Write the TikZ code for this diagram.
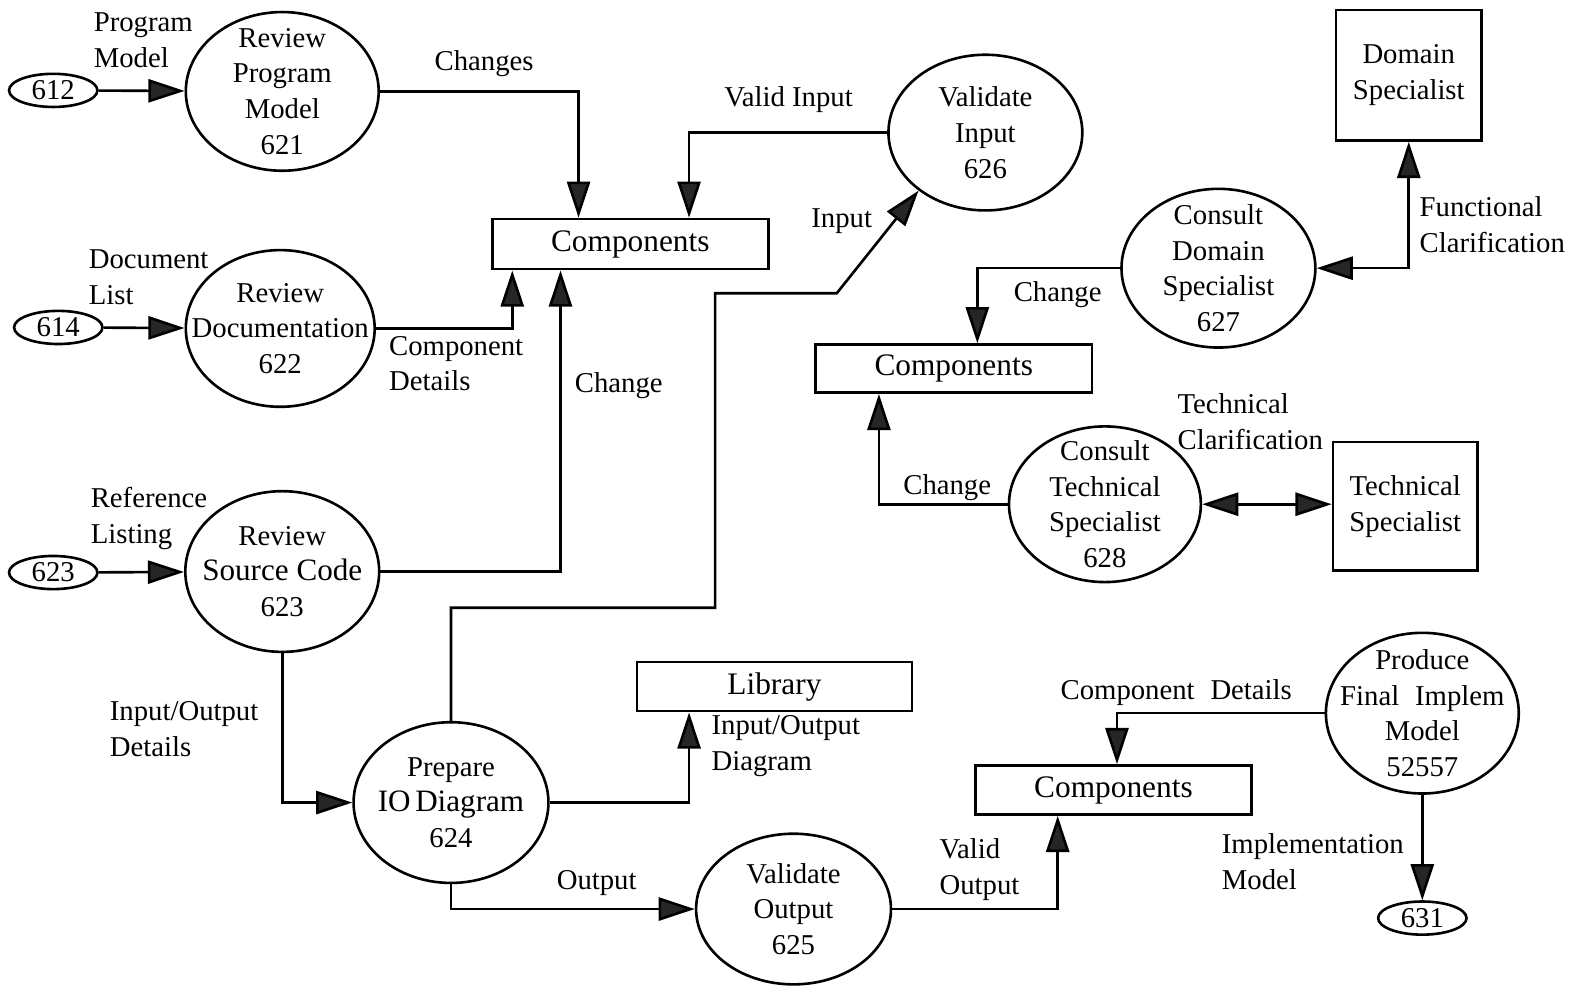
\documentclass[tikz,border=0pt]{standalone}
\usepackage{fontspec}
\setmainfont{Liberation Serif}
\usetikzlibrary{arrows.meta,shapes.geometric}
\begin{document}
\begin{tikzpicture}[x=0.5pt,y=-0.5pt,
  every node/.style={font=\fontsize{14.3}{17.8}\selectfont},
  proc/.style={ellipse,draw,line width=1.3pt,inner sep=-40pt,align=center},
  store/.style={ellipse,draw,line width=1.3pt,inner sep=-10pt,minimum width=44pt,minimum height=16.5pt},
  ent/.style={rectangle,draw,line width=1.3pt,inner sep=0pt,align=center},
  bigtxt/.style={font=\fontsize{15.6}{18}\selectfont},
  lbl/.style={align=left,inner sep=0pt},
  flow/.style={line width=1.3pt,-{Triangle[length=18pt,width=11.5pt,fill=black!85]}},
  flowboth/.style={line width=1.3pt,{Triangle[length=18pt,width=11.5pt,fill=black!85]}-{Triangle[length=18pt,width=11.5pt,fill=black!85]}}
]
\useasboundingbox (0,0) rectangle (1568,983);

% --- stores ---
\node[store] (s612) at (53,90) {612};
\node[store] (s614) at (58,326) {614};
\node[store] (s623) at (53,570) {623};
\node[store] (s631) at (1416,914) {631};

% --- processes ---
\node[proc, minimum width=96pt, minimum height=79pt] (p621) at (281,91) {Review\\Program\\Model\\621};
\node[proc, minimum width=94pt, minimum height=78pt] (p622) at (279,327) {Review\\Documentation\\622};
\node[proc, minimum width=96.5pt, minimum height=80pt] (p623) at (281,569) {Review\\{\fontsize{15.5}{17.8}\selectfont Source Code}\\623};
\node[proc, minimum width=97pt, minimum height=80pt] (p624) at (449,799) {Prepare\\{\fontsize{15.5}{17.8}\selectfont IO\hspace{-0.1em} Diagram}\\624};
\node[proc, minimum width=97pt, minimum height=75pt] (p625) at (790,905) {Validate\\Output\\625};
\node[proc, minimum width=96.5pt, minimum height=77.5pt] (p626) at (981,132) {Validate\\Input\\626};
\node[proc, minimum width=96.5pt, minimum height=79pt] (p627) at (1213,267) {Consult\\Domain\\Specialist\\627};
\node[proc, minimum width=95.5pt, minimum height=77.5pt] (p628) at (1100,502) {Consult\\Technical\\Specialist\\628};
\node[proc, minimum width=96pt, minimum height=80pt] (p631) at (1416,710) {Produce\\Final\hspace{0.3em} Implem\\Model\\52557};

% --- entities and data stores ---
\node[ent, bigtxt, minimum width=137.5pt, minimum height=25pt] (c1) at (627.5,243) {Components};
\node[ent, bigtxt, minimum width=137.5pt, minimum height=24pt] (c2) at (949.5,367) {Components};
\node[ent, bigtxt, minimum width=137.5pt, minimum height=24.5pt] (c3) at (1108.5,786.5) {Components};
\node[ent, bigtxt, minimum width=137pt, minimum height=24.5pt] (lib) at (771,683.5) {Library};
\node[ent, minimum width=72.5pt, minimum height=65pt] (dom) at (1402.5,75) {Domain\\Specialist};
\node[ent, minimum width=72pt, minimum height=64pt] (tech) at (1399,504) {Technical\\Specialist};

% --- flows ---
\draw[flow] (s612) -- (p621);
\draw[flow] (s614) -- (p622);
\draw[flow] (s623) -- (p623);
\draw[flow] (p621.east) -| (576,0 |- c1.north);
\draw[flow] (p626.west) -| (686,0 |- c1.north);
\draw[flow] (p622.east) -| (510,0 |- c1.south);
\draw[flow] (p623.east) -| (558,0 |- c1.south);
\draw[flow] (p624.north) |- (712,605) |- (833,292) -- (p626.221);
\draw[flow] (p623.south) |- (p624.west);
\draw[flow] (p624.east) -| (686,0 |- lib.south);
\draw[flow] (p624.south) |- (p625.west);
\draw[flow] (p625.east) -| (1053,0 |- c3.south);
\draw[flow] (p631.west) -| (1112,0 |- c3.north);
\draw[flow] (p631.south) -- (s631.north);
\draw[flow] (p627.west) -| (973,0 |- c2.north);
\draw[flow] (p628.west) -| (875,0 |- c2.south);
\draw[flowboth] (p627.east) -| (dom.south);
\draw[flowboth] (p628.east) -- (p628.east -| tech.west);

% --- flow labels ---
\node[lbl, anchor=west] (lpm) at (93,40) {Program\\Model};
\node (lchg) at (482,63) {Changes};
\node (lvi) at (785,99) {Valid Input};
\node (lin) at (838,220) {Input};
\node[lbl, anchor=west] (ldl) at (88,276) {Document\\List};
\node[lbl, anchor=west] (lcd) at (387,362) {Component\\Details};
\node (lch1) at (616,384) {Change};
\node[lbl, anchor=west] (lrl) at (90,516) {Reference\\Listing};
\node[lbl, anchor=west] (liod) at (109,726) {Input/Output\\Details};
\node[lbl, anchor=west] (lfc) at (1413,224) {Functional\\Clarification};
\node (lch2) at (1053,293) {Change};
\node[lbl, anchor=west] (ltc) at (1172,420) {Technical\\Clarification};
\node (lch3) at (943,485) {Change};
\node[lbl, anchor=west] (liog) at (708,743) {Input/Output\\Diagram};
\node (lout) at (594,879) {Output};
\node[lbl, anchor=west] (lvo) at (935,866) {Valid\\Output};
\node (lcd2) at (1171,690) {Component\hspace{0.3em} Details};
\node[lbl, anchor=west] (lim) at (1216,858) {Implementation\\Model};
\end{tikzpicture}
\end{document}
